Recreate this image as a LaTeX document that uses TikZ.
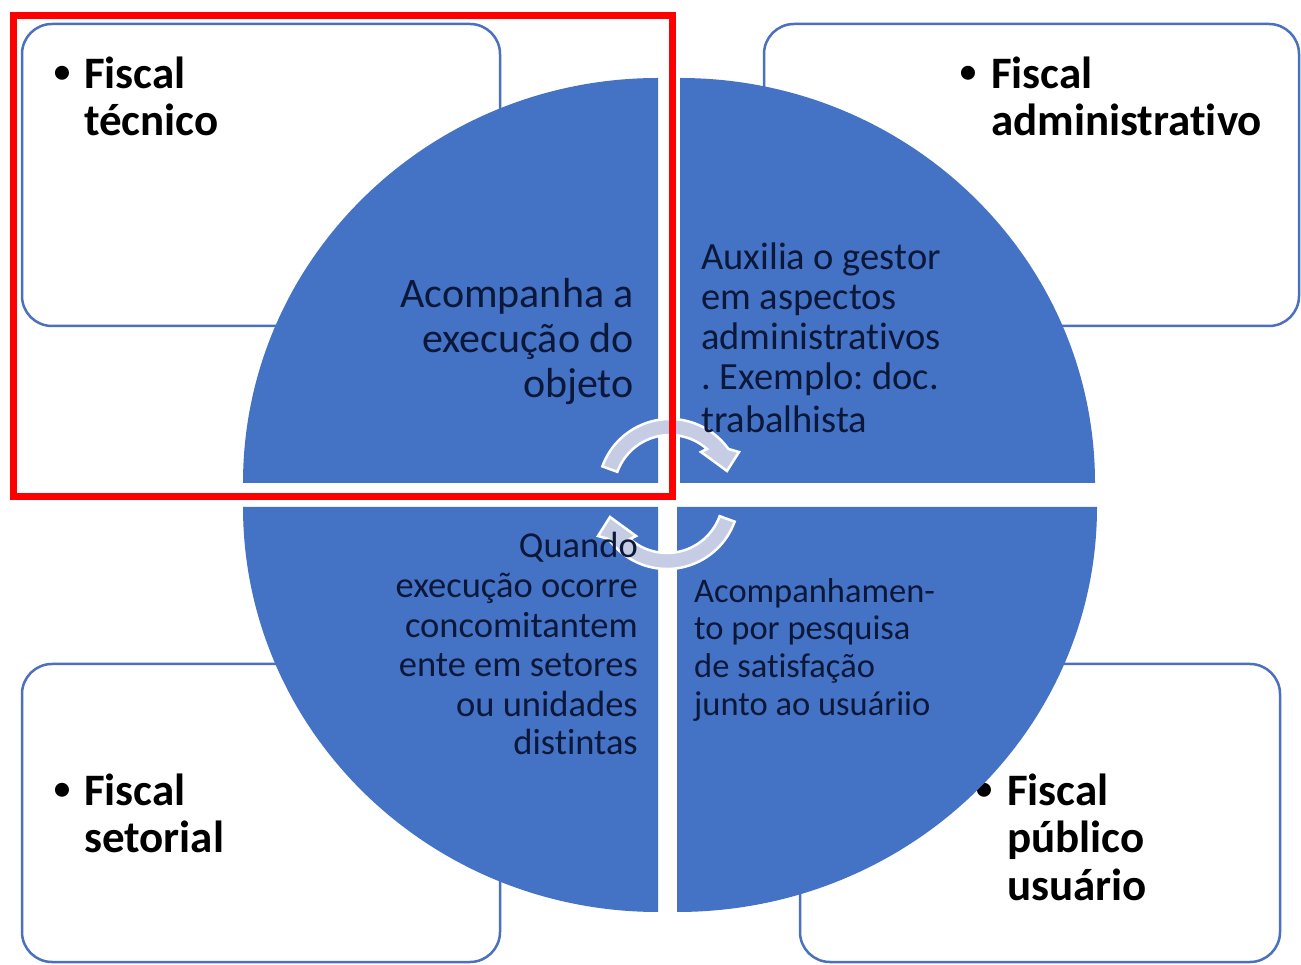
\documentclass[tikz,border=0pt]{standalone}
\usepackage{fontspec}
\setmainfont{Carlito}[Ligatures=NoCommon, Contextuals=NoAlternate]
\frenchspacing
\definecolor{qblue}{RGB}{68,114,196}
\definecolor{bline}{RGB}{75,112,190}
\definecolor{qtext}{RGB}{12,24,58}
\definecolor{arrowfill}{RGB}{198,204,228}
\tikzset{
  box/.style={draw=bline, line width=2.5pt, rounded corners=30pt, fill=white},
  lbl/.style={inner sep=0pt, anchor=base west, text=black, font=\bfseries\fontsize{45}{47}\selectfont},
  bul/.style={inner sep=0pt, anchor=base, text=black, font=\bfseries\fontsize{33}{33}\selectfont},
  quad/.style={fill=qblue},
  qtl/.style={inner sep=0pt, anchor=base east, text=qtext, font=\fontsize{42}{45}\selectfont},
  qtr/.style={inner sep=0pt, anchor=base west, text=qtext, font=\fontsize{38.5}{40}\selectfont},
  qbl/.style={inner sep=0pt, anchor=base east, text=qtext, font=\fontsize{36.5}{39}\selectfont},
  qbr/.style={inner sep=0pt, anchor=base west, text=qtext, font=\fontsize{34.5}{37}\selectfont},
  cyc/.style={fill=arrowfill, draw=white, line width=2.5pt},
  mark box/.style={draw=red, line width=7pt}
}
\begin{document}
\begin{tikzpicture}[x=1pt,y=1pt]
\useasboundingbox (0,0) rectangle (1301,964);
\fill[white] (0,0) rectangle (1301,964);

% outer boxes
\draw[box] (22,638) rectangle (500,940);
\draw[box] (764,638) rectangle (1299,940);
\draw[box] (22,2) rectangle (500,300);
\draw[box] (800,2) rectangle (1280,300);

% box labels
\node[bul] (b1) at (62,881) {•};
\node[lbl] (t1a) at (84,875) {Fiscal};
\node[lbl] (t1b) at (84,828) {técnico};
\node[bul] (b2) at (968,881) {•};
\node[lbl] (t2a) at (991,875) {Fiscal};
\node[lbl] (t2b) at (991,828) {administrativo};
\node[bul] (b3) at (62,164) {•};
\node[lbl] (t3a) at (84,158) {Fiscal};
\node[lbl] (t3b) at (84,111) {setorial};
\node[bul] (b4) at (984,164) {•};
\node[lbl] (t4a) at (1007,158) {Fiscal};
\node[lbl] (t4b) at (1007,111) {público};
\node[lbl] (t4c) at (1007,64) {usuário};

% quadrants
\fill[quad] (658,481) -- (243,481) arc[start angle=180,end angle=90,x radius=415,y radius=405] -- cycle;
\fill[quad] (680,481) -- (1095,481) arc[start angle=0,end angle=90,x radius=415,y radius=405] -- cycle;
\fill[quad] (658,457) -- (243,457) arc[start angle=180,end angle=270,x radius=415,y radius=405] -- cycle;
\fill[quad] (677,457) -- (1097,457) arc[start angle=0,end angle=-90,x radius=420,y radius=405] -- cycle;

% cycle arrows
\filldraw[cyc] (602.34,497.63) arc[start angle=160,end angle=35.7,radius=72]
  -- (739,512) -- (727,493) -- (701,512) -- (707,515)
  arc[start angle=48.6,end angle=160,radius=56] -- cycle;
\filldraw[cyc] (734.66,442.37) arc[start angle=340,end angle=215.7,radius=72]
  -- (598,428) -- (610,447) -- (636,428) -- (630,425)
  arc[start angle=228.6,end angle=340,radius=56] -- cycle;

% quadrant texts
\node[qtl] (q1a) at (634,656) {Acompanha a};
\node[qtl] (q1b) at (634,611) {execução do};
\node[qtl] (q1c) at (634,566) {objeto};

\node[qtr] (q2a) at (701,694) {Auxilia o gestor};
\node[qtr] (q2b) at (701,654) {em aspectos};
\node[qtr] (q2c) at (701,614) {administrativos};
\node[qtr] (q2d) at (701,574) {. Exemplo: doc.};
\node[qtr] (q2e) at (701,531) {trabalhista};

\node[qbl] (q3a) at (638,406) {Quando};
\node[qbl] (q3b) at (638,366) {execução ocorre};
\node[qbl] (q3c) at (638,326) {concomitantem};
\node[qbl] (q3d) at (638,287) {ente em setores};
\node[qbl] (q3e) at (638,247) {ou unidades};
\node[qbl] (q3f) at (638,209) {distintas};

\node[qbr] (q4a) at (694,361) {Acompanhamen-};
\node[qbr] (q4b) at (694,324) {to por pesquisa};
\node[qbr] (q4c) at (694,286) {de satisfação};
\node[qbr] (q4d) at (694,248) {junto ao usuáriio};

% red highlight frame
\draw[mark box] (13.5,948.5) rectangle (672,467);
\end{tikzpicture}
\end{document}
